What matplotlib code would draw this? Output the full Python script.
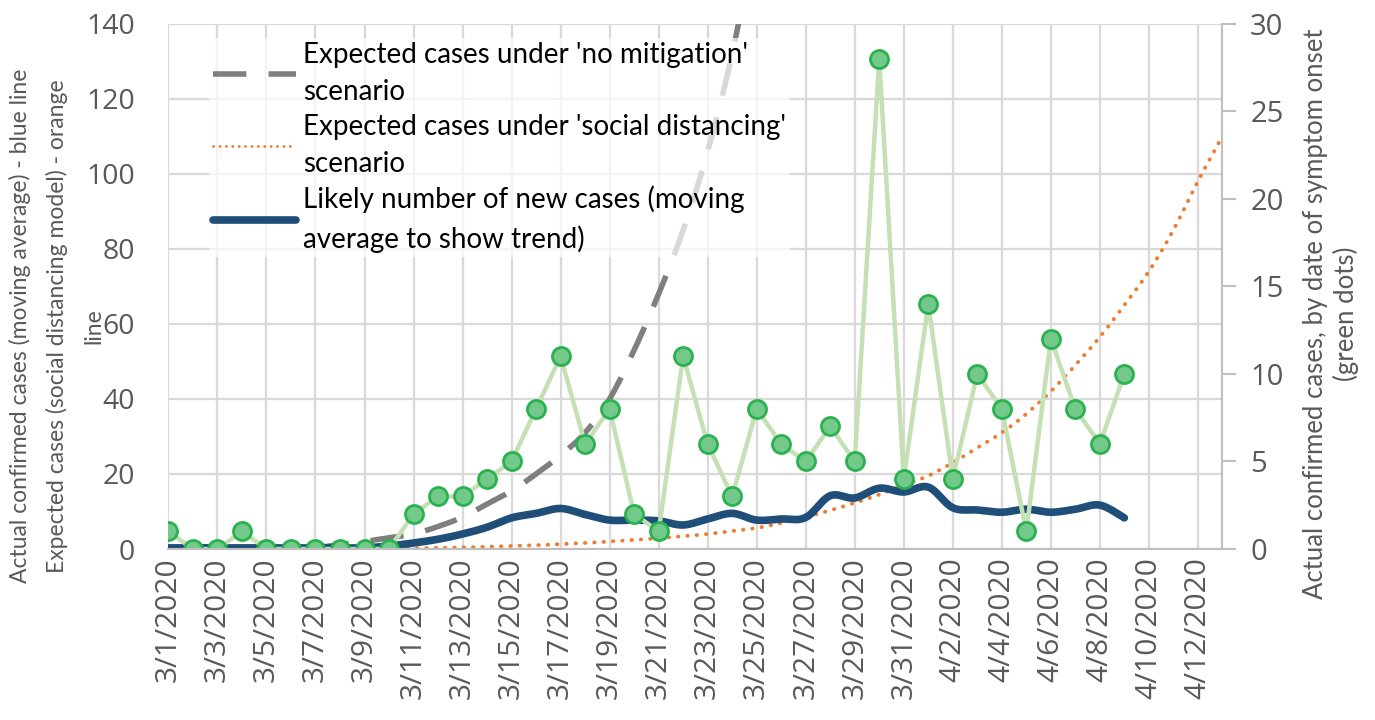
import numpy as np
import pandas as pd
import matplotlib
matplotlib.use('Agg')
import matplotlib.pyplot as plt
from matplotlib.lines import Line2D

# categories: one per day, 3/1/2020 .. 4/13/2020
dates = pd.date_range('2020-03-01', '2020-04-13')
date_labels = ['{0}/{1}/{2}'.format(d.month, d.day, d.year) for d in dates]

# green dots (right axis), 3/1 .. 4/9
green_cases = [1, 0, 0, 1, 0, 0, 0, 0, 0, 0,
               2, 3, 3, 4, 5, 8, 11, 6, 8, 2,
               1, 11, 6, 3, 8, 6, 5, 7, 5, 28,
               4, 14, 4, 10, 8, 1, 12, 8, 6, 10]

# blue moving average (left axis), 3/1 .. 4/9
moving_avg = [0.3, 0.3, 0.3, 0.3, 0.3, 0.3, 0.3, 0.3, 0.3, 0.8,
              1.6, 2.6, 4.0, 5.8, 8.3, 9.5, 10.8, 9.2, 7.7, 7.7,
              7.5, 6.4, 8.0, 9.5, 7.7, 8.0, 8.4, 14.2, 13.6, 16.2,
              15.2, 16.5, 11.0, 10.4, 9.8, 10.6, 9.8, 10.6, 11.7, 8.3]

# grey dashed 'no mitigation' (left axis), 3/7 .. 3/25
no_mitigation_start = 6
no_mitigation = [0.3, 1.2, 2.0, 3.0, 4.0, 6.0, 8.5, 12.0, 15.5, 20.0,
                 25.0, 31.0, 40.0, 53.0, 68.0, 85.0, 106.0, 132.0, 165.0]

# orange dotted 'social distancing' (left axis), 3/10 .. 4/13
social_dist_start = 9
social_dist = [0.1, 0.2, 0.3, 0.4, 0.6, 0.8, 1.0, 1.3, 1.6, 2.0,
               2.4, 2.9, 3.4, 4.0, 4.8, 5.6, 6.9, 8.5, 10.3, 12.3,
               14.5, 17.0, 19.5, 23.0, 27.0, 31.0, 36.0, 42.0, 49.0, 56.5,
               65.0, 74.0, 85.0, 98.0, 110.0]

TXT = '#595959'
GRID = '#d9d9d9'
tickfont = 'Open Sans'
labfont = 'Lato'


def smooth(xs, ys, n=12):
    # catmull-rom path through the points, like excel's 'smoothed line'
    xs = np.asarray(xs, float)
    ys = np.asarray(ys, float)
    px = np.concatenate([[xs[0]], xs, [xs[-1]]])
    py = np.concatenate([[ys[0]], ys, [ys[-1]]])
    ox, oy = [], []
    t = np.linspace(0, 1, n, endpoint=False)
    for i in range(1, len(px) - 2):
        for p, out in ((px, ox), (py, oy)):
            p0, p1, p2, p3 = p[i - 1], p[i], p[i + 1], p[i + 2]
            out.extend(0.5 * (2 * p1 + (-p0 + p2) * t
                              + (2 * p0 - 5 * p1 + 4 * p2 - p3) * t ** 2
                              + (-p0 + 3 * p1 - 3 * p2 + p3) * t ** 3))
    ox.append(xs[-1])
    oy.append(ys[-1])
    return ox, oy


fig = plt.figure(figsize=(13.75, 7.2), dpi=100)
ax = fig.add_axes([0.1225, 0.2375, 0.7665, 0.7295])
ax2 = ax.twinx()

x_all = np.arange(len(dates))
x_green = np.arange(len(green_cases))
x_nm = np.arange(len(no_mitigation)) + no_mitigation_start
x_sd = np.arange(len(social_dist)) + social_dist_start

sx, sy = smooth(x_nm, no_mitigation)
ax.plot(sx, sy, color='#7f7f7f', lw=4, ls=(0, (6, 4)), zorder=3)
sx, sy = smooth(x_sd, social_dist)
ax.plot(sx, sy, color='#ed7d31', lw=2.8, ls=(0, (0.1, 2.3)),
        dash_capstyle='round', zorder=3)
sx, sy = smooth(x_green, moving_avg)
ax.plot(sx, sy, color='#1f4e79', lw=5.5,
        solid_capstyle='round', solid_joinstyle='round', zorder=4)

ax2.plot(x_green, green_cases, color='#c5e0b4', lw=3.2, zorder=2,
         marker='o', ms=13, mfc='#73c98a', mec='#29b24f', mew=2)

ax.set_xlim(0, len(dates) - 1)
ax.set_ylim(0, 140)
ax2.set_ylim(0, 30)

ax.set_xticks(x_all[::2])
ax.set_xticklabels(date_labels[::2], rotation=90, fontsize=21.5,
                   color=TXT, family=tickfont)
ax.set_yticks(np.arange(0, 141, 20))
ax.tick_params(axis='y', length=0, labelsize=20.5, labelcolor=TXT, pad=24)
ax.tick_params(axis='x', length=0, pad=6)
for t in ax.get_yticklabels():
    t.set_family(tickfont)

ax2.set_yticks(np.arange(0, 31, 5))
ax2.tick_params(axis='y', length=10, width=1.5, color='#bfbfbf',
                labelsize=21, labelcolor=TXT, pad=10)
for t in ax2.get_yticklabels():
    t.set_family(tickfont)

ax.grid(True, color=GRID, lw=1.6)
ax.set_axisbelow(True)
for sp in ['top', 'left', 'right', 'bottom']:
    ax.spines[sp].set_visible(False)
for sp in ['top', 'left']:
    ax2.spines[sp].set_visible(False)
ax2.spines['right'].set_color('#bfbfbf')
ax2.spines['right'].set_linewidth(1.5)
ax2.spines['bottom'].set_color('#bfbfbf')
ax2.spines['bottom'].set_linewidth(1.5)

# left axis title, one text per wrapped line
left_title = ['Actual confirmed cases (moving average) - blue line',
              'Expected cases (social distancing model) - orange',
              'line']
for i, line in enumerate(left_title):
    fig.text((20 + 37 * i) / 1375, 1 - 326 / 720, line,
             rotation=90, ha='center', va='center',
             fontsize=16.5, color=TXT, family=labfont)
right_title = ['Actual confirmed cases, by date of symptom onset',
               '(green dots)']
for i, line in enumerate(right_title):
    fig.text((1316 + 30 * i) / 1375, 1 - 314 / 720, line,
             rotation=90, ha='center', va='center',
             fontsize=18.5, color=TXT, family=labfont)

handles = [
    Line2D([], [], color='#7f7f7f', lw=4, ls=(0, (6, 4))),
    Line2D([], [], color='#ed7d31', lw=2, ls=(0, (0.1, 2.2)), dash_capstyle='round'),
    Line2D([], [], color='#1f4e79', lw=5.5, solid_capstyle='round'),
]
leg = ax2.legend(handles,
                 ["Expected cases under 'no mitigation'\nscenario",
                  "Expected cases under 'social distancing'\nscenario",
                  "Likely number of new cases (moving\naverage to show trend)"],
                 loc='upper left', bbox_to_anchor=(0.025, 1.0), frameon=True,
                 fancybox=False, framealpha=0.7, edgecolor='none',
                 prop={'family': labfont, 'size': 20}, handlelength=3.0,
                 handletextpad=0.25, labelspacing=0.3, borderpad=0.15)
leg.get_frame().set_facecolor('white')
for t in leg.get_texts():
    t.set_linespacing(1.55)

fig.savefig('out.png', dpi=100, facecolor='white')
